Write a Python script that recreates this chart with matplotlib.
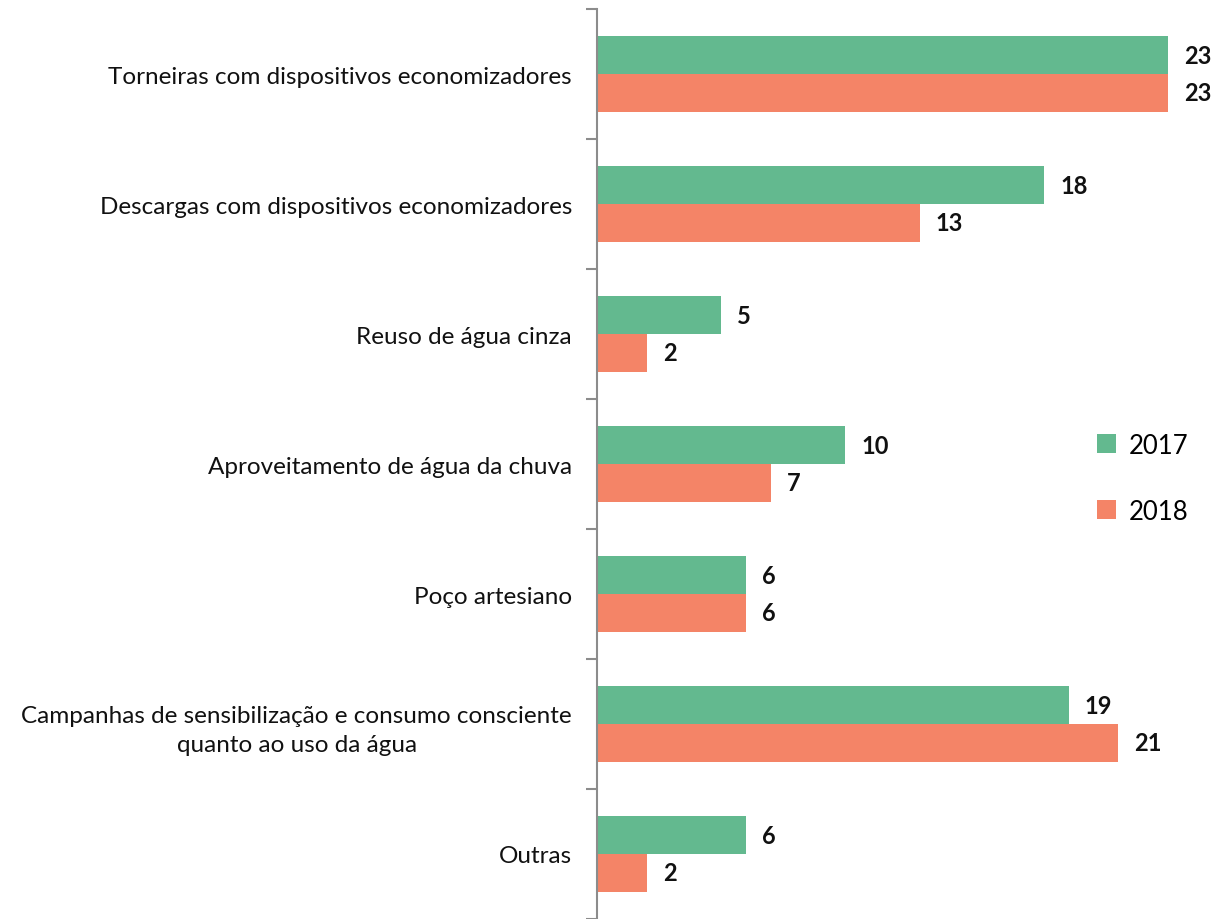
import matplotlib
matplotlib.use("Agg")
import matplotlib.pyplot as plt
import numpy as np

categories = [
    "Torneiras com dispositivos economizadores",
    "Descargas com dispositivos economizadores",
    "Reuso de água cinza",
    "Aproveitamento de água da chuva",
    "Poço artesiano",
    "Campanhas de sensibilização e consumo consciente\nquanto ao uso da água",
    "Outras",
]
values_2017 = [23, 18, 5, 10, 6, 19, 6]
values_2018 = [23, 13, 2, 7, 6, 21, 2]
series_names = ["2017", "2018"]
colors = ["#63b98f", "#f48467"]

plt.rcParams["font.family"] = ["Lato", "DejaVu Sans"]

fig = plt.figure(figsize=(12.24, 9.2), dpi=100)
ax = fig.add_axes([597 / 1224, 0, 1 - 597 / 1224, 1 - 10 / 920])

n = len(categories)
y = np.arange(n)
h = 0.29
b1 = ax.barh(y - h / 2, values_2017, height=h, color=colors[0], label=series_names[0])
b2 = ax.barh(y + h / 2, values_2018, height=h, color=colors[1], label=series_names[1])

for bars, vals in ((b1, values_2017), (b2, values_2018)):
    for bar, v in zip(bars, vals):
        ax.text(bar.get_width() + 0.65, bar.get_y() + bar.get_height() / 2, str(v),
                va="center", ha="left", fontsize=17, fontweight="bold", color="#111111")

ax.set_ylim(n - 0.5, -0.5)
ax.set_xlim(0, 627 / 24.83)
ax.set_yticks(y)
ax.set_yticklabels(categories, fontsize=17.5, color="#111111")
ax.tick_params(axis="y", which="major", length=0, pad=18)
ax.set_yticks(np.arange(n + 1) - 0.5, minor=True)
ax.tick_params(axis="y", which="minor", length=8, width=1.5, color="#8c8c8c")
for lbl in ax.get_yticklabels():
    lbl.set_horizontalalignment("right")
    lbl.set_multialignment("center")
    lbl.set_linespacing(1.5)
ax.set_xticks([])
for s in ("top", "right", "bottom"):
    ax.spines[s].set_visible(False)
ax.spines["left"].set_color("#8c8c8c")
ax.spines["left"].set_linewidth(1.5)

ax.legend(loc="upper left", bbox_to_anchor=(0.76, 0.56), frameon=False, fontsize=18.5,
          handlelength=0.75, handleheight=0.75, handletextpad=0.5, labelspacing=1.6)

fig.savefig("out.png", dpi=100)
